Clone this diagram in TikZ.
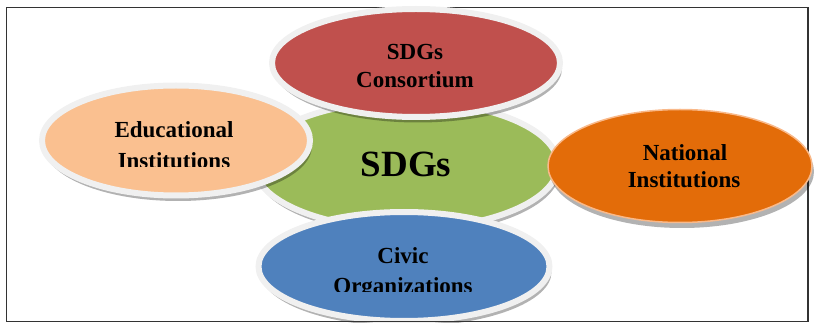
\documentclass[tikz,border=0pt]{standalone}
\usepackage{fontspec}
\setmainfont{Liberation Serif}
\usetikzlibrary{shapes.geometric,shadows}
\definecolor{cred}{HTML}{C0504D}
\definecolor{cpeach}{HTML}{FAC090}
\definecolor{cgreen}{HTML}{9BBB59}
\definecolor{corange}{HTML}{E36C09}
\definecolor{cblue}{HTML}{4F81BD}
\definecolor{rim}{HTML}{F0F0F0}
\definecolor{orim}{HTML}{F9B98A}
\begin{document}
\begin{tikzpicture}[x=1pt,y=-1pt,
  blob/.style={ellipse, inner sep=0pt, draw=rim, line width=6pt,
    drop shadow={shadow xshift=2pt, shadow yshift=-5.5pt, opacity=0.3, fill=black}},
  lbl/.style={anchor=base, inner sep=0pt, font=\fontsize{23}{29}\selectfont\bfseries},
  frameline/.style={draw=black!80, line width=1.8pt}]
\useasboundingbox (0,0) rectangle (814,323);
\coordinate (tl) at (6.5,7.5);
\coordinate (br) at (808,321.5);
\coordinate (bl) at (6.5,321.5);
\draw[frameline] (tl) rectangle (br);

\node[blob, fill=cgreen, minimum width=304pt, minimum height=128pt] (green) at (406,165) {};
\node[blob, fill=cred, minimum width=288pt, minimum height=108pt] (red) at (416,63) {};
\node[blob, fill=cpeach, minimum width=268pt, minimum height=110pt] (edu) at (176,140.5) {};
\node[blob, fill=corange, draw=orim, line width=1.5pt, minimum width=264pt, minimum height=113pt] (nat) at (680,166) {};
\node[blob, fill=cblue, minimum width=291pt, minimum height=109pt] (civic) at (404,266.5) {};

\draw[frameline] (bl) -- (br);

\node[lbl] (tred1) at (415,60) {SDGs};
\node[lbl] (tred2) at (415,88) {Consortium};
\node[lbl] (tedu1) at (174,138) {Educational};
\begin{scope}
  \clip (40,140) rectangle (310,167);
  \node[lbl] (tedu2) at (174,168.5) {Institutions};
\end{scope}
\node[lbl] (tnat1) at (685,161) {National};
\node[lbl] (tnat2) at (684,188) {Institutions};
\node[lbl] (tciv1) at (403,263) {Civic};
\begin{scope}
  \clip (250,265) rectangle (560,291.5);
  \node[lbl] (tciv2) at (403,294) {Organizations};
\end{scope}
\node[anchor=base, inner sep=0pt, font=\fontsize{37}{37}\selectfont\bfseries] (tsdg) at (406,177) {SDGs};
\end{tikzpicture}
\end{document}
